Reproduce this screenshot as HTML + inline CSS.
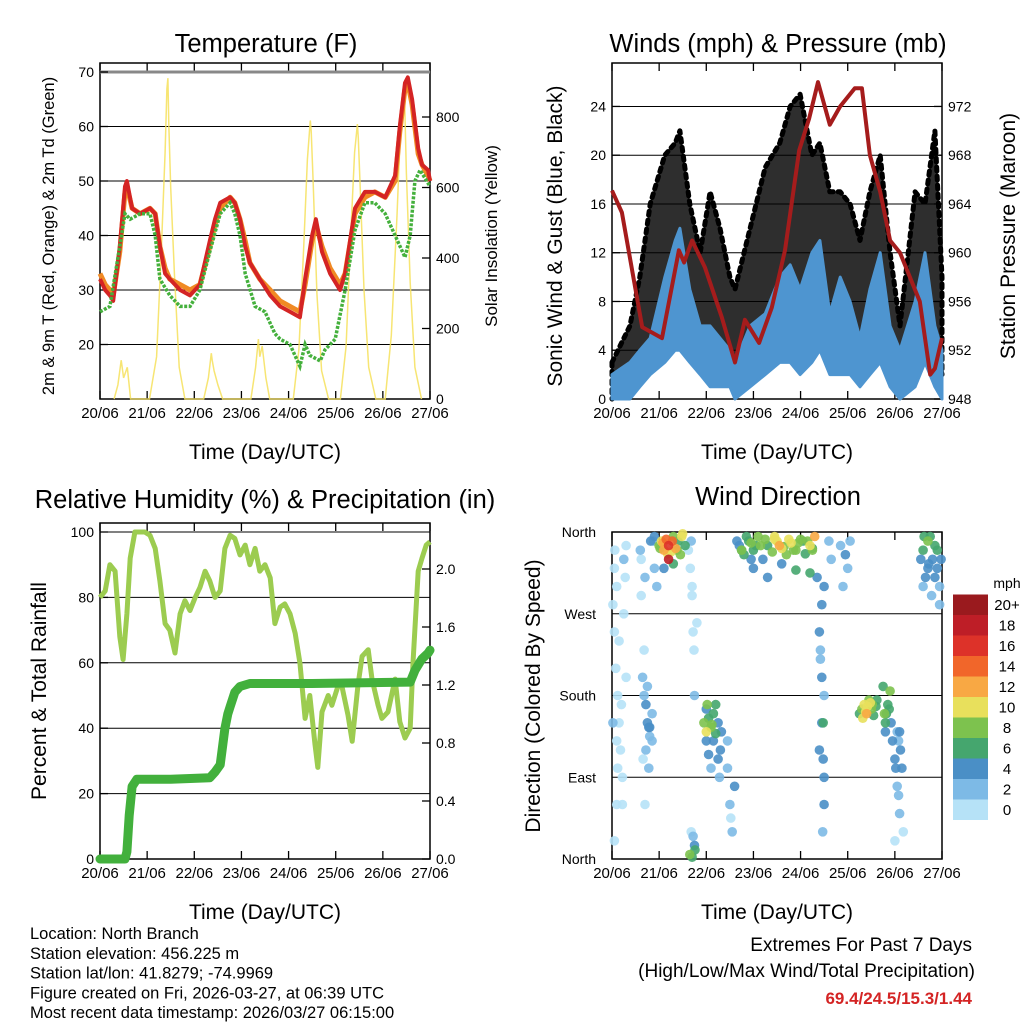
<!DOCTYPE html>
<html><head><meta charset="utf-8">
<style>
body{margin:0;background:#fff;}
svg{display:block;font-family:"Liberation Sans",sans-serif;}
</style></head>
<body>
<svg id="c" width="1024" height="1024" viewBox="0 0 1024 1024">
<rect width="1024" height="1024" fill="#fff"/>
<g id="g"></g>
</svg>
<script>
// ---------- DATA ----------
const dayLabels = ["20/06","21/06","22/06","23/06","24/06","25/06","26/06","27/06"];
const tempT = [0,.11,.21,.28,.42,.53,.57,.68,.85,1.06,1.17,1.27,1.38,1.48,1.70,1.91,2.12,2.33,2.44,2.55,2.76,2.86,2.97,3.08,3.18,3.39,3.61,3.82,4.03,4.24,4.35,4.50,4.58,4.71,4.88,5.09,5.20,5.41,5.62,5.83,6.05,6.26,6.36,6.47,6.53,6.62,6.75,6.83,6.96,7];
const temp2m = [32,30,29,28,38,49,50,45,44,45,44,38,33,32,30,29,31,39,43,46,47,46,43,38,35,32,29,27,26,25,32,40,43,37,33,30,33,45,48,48,47,51,60,68,69,65,56,53,52,50];
const temp9m = [33,31,30,29,37,48,49,45,44,45,44,38,34,32,31,30,31,38,42,45,47,46,43,39,35,32,30,28,27,26,31,39,42,38,34,31,33,44,47,48,47,50,59,67,68,64,55,53,51,50];
const dewT = [0,.21,.42,.53,.64,.85,1.06,1.17,1.27,1.48,1.70,1.91,2.12,2.33,2.55,2.76,2.86,2.97,3.08,3.29,3.50,3.71,3.82,4.03,4.24,4.35,4.45,4.67,4.77,4.99,5.20,5.41,5.62,5.83,6.05,6.26,6.47,6.58,6.68,6.79,7];
const dew = [26,27,38,44,43,44,44,40,32,29,27,27,30,37,44,46,44,40,33,27,26,22,21,20,16,20,18,17,19,21,30,41,46,46,44,40,36,40,50,52,49];
const solarT = [0.3,0.38,0.45,0.5,0.58,0.65,1.05,1.2,1.3,1.38,1.42,1.44,1.46,1.5,1.58,1.68,1.8,2.2,2.3,2.36,2.38,2.42,2.5,2.6,3.2,3.3,3.36,3.39,3.44,3.52,3.6,4.1,4.22,4.32,4.4,4.46,4.48,4.52,4.6,4.7,4.85,5.1,5.22,5.32,5.4,5.46,5.48,5.52,5.6,5.7,5.85,6.05,6.18,6.3,6.38,6.44,6.46,6.5,6.58,6.68,6.82];
const solarV = [0,40,110,60,90,0,0,120,420,700,880,910,780,600,350,90,0,0,60,130,110,80,40,0,0,90,170,120,150,60,0,0,140,430,680,790,760,620,300,80,0,0,150,470,700,780,740,600,310,90,0,0,180,520,790,880,860,640,330,90,0];
const windT = [0,.38,.59,.81,1.12,1.34,1.44,1.65,1.87,2.08,2.29,2.50,2.61,2.93,3.25,3.56,3.78,3.99,4.24,4.41,4.62,4.84,5.05,5.26,5.47,5.69,5.90,6.11,6.43,6.64,6.85,7];
const windHi = [2,3,4,5,10,13,14,9,6,6,5,4,3,6,7,10,11,9,12,13,7,10,8,5,9,12,6,4,8,12,6,4];
const windLo = [0,0,1,2,3,4,4,3,2,1,1,1,0,1,2,3,3,2,3,4,2,2,2,1,2,3,1,0,1,3,1,0];
const gustHi = [3,6,10,16,20,21,22,16,12,17,14,10,9,14,19,21,24,25,20,21,17,17,16,13,17,20,12,6,17,16,22,10];
const gustLo = [0,1,3,4,8,10,11,7,5,5,4,3,2,5,6,9,10,8,10,11,6,8,6,4,7,10,5,2,7,10,5,2];
const presT = [0,.21,.64,1.06,1.42,1.53,1.70,1.97,2.33,2.61,2.82,3.12,3.39,3.67,3.97,4.18,4.37,4.62,4.84,5.15,5.30,5.47,5.69,5.90,6.11,6.32,6.53,6.64,6.75,6.85,7];
const pres = [965.1,963.3,953.9,953,960.2,959.2,961,958.8,954.7,951,954.5,952.6,955.5,960.2,968.4,971,974,970.5,972,973.5,973.5,968,965,961,960,958,956,953,950,950.5,953];
const rhT = [0,.11,.21,.32,.42,.49,.57,.64,.74,.95,1.06,1.17,1.27,1.38,1.48,1.59,1.70,1.80,1.91,2.02,2.12,2.23,2.33,2.44,2.55,2.65,2.76,2.86,2.97,3.08,3.18,3.29,3.39,3.50,3.61,3.71,3.82,3.92,4.03,4.14,4.24,4.35,4.45,4.56,4.62,4.71,4.84,4.92,5.05,5.13,5.26,5.35,5.47,5.56,5.69,5.77,5.90,5.98,6.11,6.26,6.36,6.47,6.58,6.64,6.75,6.83,6.92,7];
const rh = [80,82,90,88,68,61,75,92,100,100,99,95,85,72,70,63,75,79,76,80,83,88,85,80,82,95,99,98,93,96,90,95,88,90,86,72,77,78,75,69,60,43,50,35,28,45,50,47,53,53,44,36,53,62,64,55,47,43,45,55,42,37,40,60,88,92,96,97];
const precT = [0,.53,.57,.62,.68,.78,1.5,2.33,2.44,2.55,2.65,2.71,2.76,2.86,2.97,3.18,4.5,6.58,6.68,6.79,6.83,6.96,7];
const prec = [0,0,0.05,0.3,0.5,0.55,0.55,0.56,0.6,0.65,0.9,1.0,1.05,1.15,1.19,1.21,1.21,1.22,1.3,1.36,1.38,1.42,1.44];
const dirDay = [0.05,0.1,0.15,0.2,0.1,0.25,0.3,0.05,0.02,0.12,0.22,0.6,0.7,0.75,0.8,0.85,0.7,0.9,0.95,0.62,0.68,0.72,0.78,1.0,1.05,1.1,1.15,1.2,1.25,1.3,1.35,1.4,1.45,1.5,1.55,1.1,1.3,1.2,1.02,1.08,1.18,1.28,1.38,1.48,1.65,1.7,1.75,1.7,1.8,1.75,1.68,1.95,2.0,2.05,2.1,2.15,2.2,2.0,2.25,2.3,2.02,2.12,2.45,2.5,2.55,2.6,2.45,2.52,2.7,2.8,2.9,3.0,3.1,3.2,3.3,3.4,3.5,3.6,3.7,3.8,3.9,4.0,4.1,4.2,4.3,3.0,3.3,3.6,3.9,4.2,2.75,2.95,3.15,3.45,3.65,3.85,4.05,4.25,4.35,4.45,4.45,4.5,4.4,4.5,4.6,4.65,4.42,4.48,4.85,4.95,5.05,5.0,4.9,5.3,5.35,5.4,5.45,5.5,5.55,5.6,5.38,5.48,5.8,5.85,5.9,5.8,5.82,6.0,6.05,6.1,6.1,6.15,6.0,6.08,6.6,6.7,6.8,6.9,6.65,6.95,6.75,6.85,6.72,
 0.02,0.05,0.08,0.12,0.15,0.18,0.22,0.25,0.28,0.06,0.3,0.1,0.62,0.65,0.68,0.72,0.75,0.8,0.85,0.88,0.9,0.66,0.78,0.82,1.62,1.66,1.7,1.72,1.74,1.68,1.76,1.72,2.0,2.05,2.1,2.15,2.2,2.25,2.28,2.32,2.65,2.75,2.85,2.95,3.05,3.25,3.45,3.55,3.75,3.95,4.15,4.25,4.4,4.42,4.45,4.48,4.5,4.47,4.5,5.25,5.32,5.42,5.52,5.62,5.75,5.78,5.88,5.92,5.95,6.02,6.05,6.08,6.12,6.18,6.55,6.6,6.7,6.78,6.85,6.9,6.98,6.62,6.95];
const dirDeg = [320,300,240,170,130,330,200,20,150,100,60,340,310,150,135,160,60,355,300,290,230,120,145,345,350,340,352,345,338,355,342,350,335,358,345,320,325,330,342,348,336,350,340,355,5,2,15,300,260,180,30,150,140,155,145,160,138,165,150,120,170,148,100,60,30,80,130,45,345,335,350,340,355,330,345,338,350,342,335,348,340,352,336,345,355,320,310,325,318,315,340,348,345,352,344,340,350,342,310,280,200,180,120,90,350,330,220,150,345,335,350,320,300,165,170,160,175,165,158,168,162,172,150,170,185,140,160,110,80,140,50,100,20,130,340,350,330,320,310,300,355,345,325,
 280,250,210,180,150,120,90,270,310,340,345,60,330,200,180,170,190,145,130,350,320,110,100,350,340,320,290,250,230,350,10,25,130,115,100,130,170,110,90,140,350,340,355,330,345,352,355,345,352,348,350,340,250,230,150,110,60,30,300,160,155,168,170,175,190,160,165,150,130,100,140,70,120,30,330,300,320,290,310,340,330,355,280];
const dirSpd = [1,0,0,1,0,2,1,0,2,1,0,2,2,4,3,3,1,4,2,1,0,3,4,8,10,12,14,16,10,8,12,6,9,11,6,5,7,18,9,13,11,15,8,10,8,6,4,1,1,2,1,8,10,6,9,7,6,4,5,4,9,8,3,3,2,4,2,1,5,6,7,6,8,4,7,8,10,11,9,10,8,9,7,10,12,4,5,4,6,6,7,8,9,10,8,9,7,6,5,4,4,3,4,5,3,2,3,6,3,4,2,3,2,8,10,12,9,8,7,6,11,10,6,7,8,5,6,4,3,4,2,5,1,3,6,8,5,4,4,3,7,6,5,
 1,0,1,0,1,0,1,0,1,1,0,0,1,2,3,4,3,4,2,3,2,1,2,4,1,0,1,0,1,2,6,3,4,4,3,5,6,4,3,5,4,8,6,5,7,9,10,12,11,8,9,8,4,3,4,5,4,3,4,6,10,11,9,7,6,8,6,4,4,4,3,2,5,1,5,3,4,3,4,6,4,7,2];
const cbLabels = ["20+","18","16","14","12","10","8","6","4","2","0"];
const cbColors = ["#9a1a1e","#be1e27","#dd3229","#f1662a","#f8a844","#e8e05c","#7dc24e","#45a66e","#4a8fc6","#7dbae6","#b6e2f7"];

// ---------- HELPERS ----------
const NS="http://www.w3.org/2000/svg", G=document.getElementById('g');
function el(tag,attrs,parent){const e=document.createElementNS(NS,tag);for(const k in attrs)e.setAttribute(k,attrs[k]);(parent||G).appendChild(e);return e;}
function txt(s,x,y,size,anchor,parent,extra){const e=el('text',Object.assign({x:x,y:y,'font-size':size,'text-anchor':anchor||'middle',fill:'#000'},extra||{}),parent);e.textContent=s;return e;}
function xs(p,d){return p.x0+d*(p.x1-p.x0)/7;}
function pts(arrT,arrV,fx,fy){return arrT.map((t,i)=>fx(t).toFixed(1)+','+fy(arrV[i]).toFixed(1)).join(' ');}

const P1={x0:100,x1:430,top:63,bot:399}, P2={x0:612,x1:942,top:63,bot:399};
const P3={x0:100,x1:430,top:523,bot:859}, P4={x0:612,x1:942,top:532,bot:859};
const yT=v=>399-(v-10)*327/60, yS=v=>399-v*70.5/200;
const yW=v=>399-v*12.19, yP=v=>399-(v-948)*12.19;
const yR=v=>859-v*3.27, yPr=v=>859-v*145;
const yD=d=>859-d*327/360;

function frame(p,name){
  const g=el('g',{});
  
  
  el('rect',{x:p.x0,y:p.top,width:p.x1-p.x0,height:p.bot-p.top,fill:'none',stroke:'#000','stroke-width':1.5},g);
  dayLabels.forEach((l,i)=>{
    const x=xs(p,i);
    el('line',{x1:x,x2:x,y1:p.bot,y2:p.bot-8,stroke:'#000','stroke-width':1.3},g);
    el('line',{x1:x,x2:x,y1:p.top,y2:p.top+8,stroke:'#000','stroke-width':1.3},g);
    const t=txt(l,x,p.bot+19,15,'middle',g);
    
    
  });
  const xt=txt('Time (Day/UTC)',(p.x0+p.x1)/2,p.bot+60,21,'middle',g);
  
  
  return g;
}
function yaxis(p,vals,fy,side,size,g,grid,fmt){
  vals.forEach(v=>{
    const y=fy(v);
    if(grid) el('line',{x1:p.x0,x2:p.x1,y1:y,y2:y,stroke:'#000','stroke-width':1},g);
    const x=side==='l'?p.x0:p.x1;
    el('line',{x1:x,x2:side==='l'?x+8:x-8,y1:y,y2:y,stroke:'#000','stroke-width':1.3},g);
    const t=txt(fmt?fmt(v):String(v),side==='l'?x-6:x+6,y+5,size,side==='l'?'end':'start',g);
    
    
  });
}
function rtitle(s,x,y,size,name){
  const t=txt(s,x,y,size,'middle',G,{transform:`rotate(-90 ${x} ${y})`});
  
  
}
function title(s,x,y,name){const t=txt(s,x,y,25.5,'middle');}

// ---------- PANEL 1: Temperature ----------
title('Temperature (F)',266,52,'temperature-title');
const g1=frame(P1,'temperature');
yaxis(P1,[20,30,40,50,60],yT,'l',14,g1,true);
el('line',{x1:P1.x0,x2:P1.x1,y1:yT(70),y2:yT(70),stroke:'#888','stroke-width':3},g1);
yaxis(P1,[70],yT,'l',14,g1,false);
yaxis(P1,[0,200,400,600,800],yS,'r',14,g1,false);
const s1=el('polyline',{points:pts(solarT,solarV,d=>xs(P1,d),yS),fill:'none',stroke:'#f6e05a','stroke-width':1.5,'stroke-opacity':0.85});

const o1=el('polyline',{points:pts(tempT,temp9m,d=>xs(P1,d),yT),fill:'none',stroke:'#f08a24','stroke-width':5,'stroke-linejoin':'round'});

const r1=el('polyline',{points:pts(tempT,temp2m,d=>xs(P1,d),yT),fill:'none',stroke:'#d42424','stroke-width':4,'stroke-linejoin':'round'});

const d1=el('polyline',{points:pts(dewT,dew,d=>xs(P1,d),yT),fill:'none',stroke:'#44b03c','stroke-width':3.5,'stroke-dasharray':'3 1.5'});

rtitle('2m & 9m T (Red, Orange) & 2m Td (Green)',54,236,16.5,'temperature-y-axis-title');
rtitle('Solar Insolation (Yellow)',497,236,17,'solar-y-axis-title');

// ---------- PANEL 2: Winds ----------
title('Winds (mph) & Pressure (mb)',778,52,'winds-title');
const g2=frame(P2,'winds');
yaxis(P2,[0,4,8,12,16,20,24],yW,'l',14,g2,true);
yaxis(P2,[948,952,956,960,964,968,972],yP,'r',14,g2,false);
const gp=pts(windT,gustHi,d=>xs(P2,d),yW)+' '+pts(windT.slice().reverse(),gustLo.slice().reverse(),d=>xs(P2,d),yW);
const gb=el('polygon',{points:gp,fill:'#000','fill-opacity':0.82,stroke:'#000','stroke-width':5,'stroke-dasharray':'4 5','stroke-linejoin':'round','stroke-linecap':'round'});

const wp=pts(windT,windHi,d=>xs(P2,d),yW)+' '+pts(windT.slice().reverse(),windLo.slice().reverse(),d=>xs(P2,d),yW);
const wb=el('polygon',{points:wp,fill:'#4e95d0',stroke:'#4e95d0','stroke-width':3,'stroke-linejoin':'round'});

const pl=el('polyline',{points:pts(presT,pres,d=>xs(P2,d),yP),fill:'none',stroke:'#a51c1c','stroke-width':4,'stroke-linejoin':'round'});

rtitle('Sonic Wind & Gust (Blue, Black)',562,236,21,'wind-y-axis-title');
rtitle('Station Pressure (Maroon)',1015,236,21,'pressure-y-axis-title');

// ---------- PANEL 3: RH & Precip ----------
title('Relative Humidity (%) & Precipitation (in)',265,508,'humidity-title');
const g3=frame(P3,'humidity');
yaxis(P3,[0,20,40,60,80,100],yR,'l',14,g3,true);
yaxis(P3,[0,0.4,0.8,1.2,1.6,2.0],yPr,'r',14,g3,false,v=>v.toFixed(1));
const rl=el('polyline',{points:pts(rhT,rh,d=>xs(P3,d),yR),fill:'none',stroke:'#9ccc50','stroke-width':5,'stroke-linejoin':'round'});

const pr=el('polyline',{points:pts(precT,prec,d=>xs(P3,d),yPr),fill:'none',stroke:'#42b03c','stroke-width':9,'stroke-linejoin':'round','stroke-linecap':'round'});

rtitle('Percent & Total Rainfall',46,691,21,'humidity-y-axis-title');

// ---------- PANEL 4: Wind Direction ----------
title('Wind Direction',778,505,'wind-direction-title');
const g4=frame(P4,'wind-direction');
[['North',360],['West',270],['South',180],['East',90],['North',0]].forEach(a=>{
  const y=yD(a[1]);
  el('line',{x1:P4.x0,x2:P4.x1,y1:y,y2:y,stroke:'#000','stroke-width':1},g4);
  const t=txt(a[0],P4.x0-16,y+5,14,'end',g4);
  
  
});
function spdColor(s){let i=Math.min(10,Math.floor(s/2));return cbColors[10-i];}
const idx=dirDay.map((d,i)=>i).sort((a,b)=>dirSpd[a]-dirSpd[b]);
idx.forEach(i=>{
  const c=el('circle',{cx:xs(P4,dirDay[i]).toFixed(1),cy:yD(dirDeg[i]).toFixed(1),r:4.8,fill:spdColor(dirSpd[i]),'fill-opacity':0.9});
  
  
});
rtitle('Direction (Colored By Speed)',540,696,21,'direction-y-axis-title');
// colorbar
const cbg=el('g',{});


txt('mph',1007,588,14,'middle',cbg);
cbLabels.forEach((l,i)=>{
  el('rect',{x:953,y:594.5+i*20.5,width:35,height:20.5,fill:cbColors[i]},cbg);
  const t=txt(l,1007,610+i*20.5,15,'middle',cbg);
  
  
});

// ---------- FOOTER ----------
const info=["Location: North Branch","Station elevation: 456.225 m","Station lat/lon: 41.8279; -74.9969","Figure created on Fri, 2026-03-27, at 06:39 UTC","Most recent data timestamp: 2026/03/27 06:15:00"];
info.forEach((s,i)=>{const t=txt(s,30,939+i*19.8,16.5,'start');});
let t1=txt('Extremes For Past 7 Days',972,951,19,'end');
let t2=txt('(High/Low/Max Wind/Total Precipitation)',975,977,19,'end');
let t3=txt('69.4/24.5/15.3/1.44',972,1004,17,'end',G,{fill:'#d42424','font-weight':'bold'});
</script>
</body></html>
